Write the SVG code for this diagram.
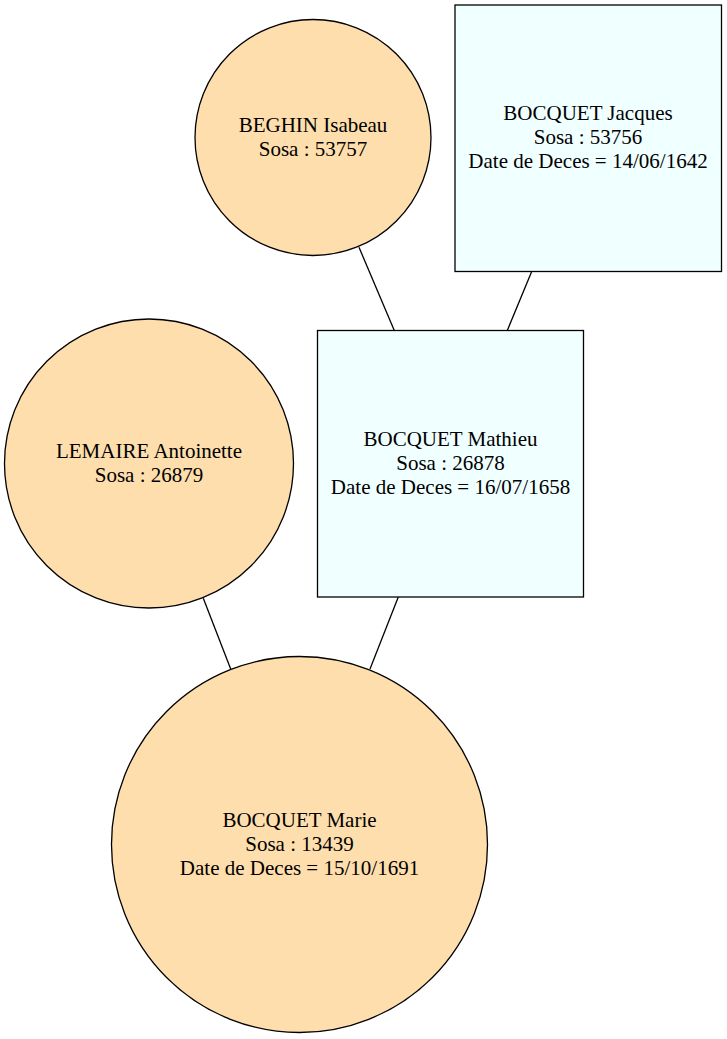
<svg xmlns="http://www.w3.org/2000/svg" width="727" height="1039" viewBox="0 0 727 1039">
<style>
.f{fill:#FFDEAD;stroke:#000;stroke-width:1.3}
.m{fill:#F0FFFF;stroke:#000;stroke-width:1.3}
.e{stroke:#000;stroke-width:1.3;fill:none}
text{font-family:"Liberation Serif","Times New Roman",serif;font-size:21px;text-anchor:middle;fill:#000}
</style>
<rect width="727" height="1039" fill="#fff"/>
<g id="edges">
<line class="e" x1="359" y1="247.3" x2="394.3" y2="330.5"/>
<line class="e" x1="531.7" y1="271.5" x2="507.3" y2="330.5"/>
<line class="e" x1="203.3" y1="598.3" x2="230.7" y2="669"/>
<line class="e" x1="398.3" y1="597" x2="370" y2="669"/>
</g>
<g id="isabeau">
<circle class="f" cx="313" cy="137.5" r="118"/>
<text x="313" y="131.5">BEGHIN Isabeau</text>
<text x="313" y="155.5">Sosa : 53757</text>
</g>
<g id="jacques">
<rect class="m" x="455" y="5" width="266.5" height="266.5"/>
<text x="588" y="120">BOCQUET Jacques</text>
<text x="588" y="144">Sosa : 53756</text>
<text x="588" y="168">Date de Deces = 14/06/1642</text>
</g>
<g id="antoinette">
<circle class="f" cx="149" cy="463.5" r="144.5"/>
<text x="149" y="457.5">LEMAIRE Antoinette</text>
<text x="149" y="481.5">Sosa : 26879</text>
</g>
<g id="mathieu">
<rect class="m" x="317.5" y="330.5" width="266" height="266.5"/>
<text x="450.5" y="445.5">BOCQUET Mathieu</text>
<text x="450.5" y="469.5">Sosa : 26878</text>
<text x="450.5" y="493.5">Date de Deces = 16/07/1658</text>
</g>
<g id="marie">
<circle class="f" cx="299.5" cy="844.5" r="188"/>
<text x="299.5" y="826.5">BOCQUET Marie</text>
<text x="299.5" y="850.5">Sosa : 13439</text>
<text x="299.5" y="874.5">Date de Deces = 15/10/1691</text>
</g>
</svg>
